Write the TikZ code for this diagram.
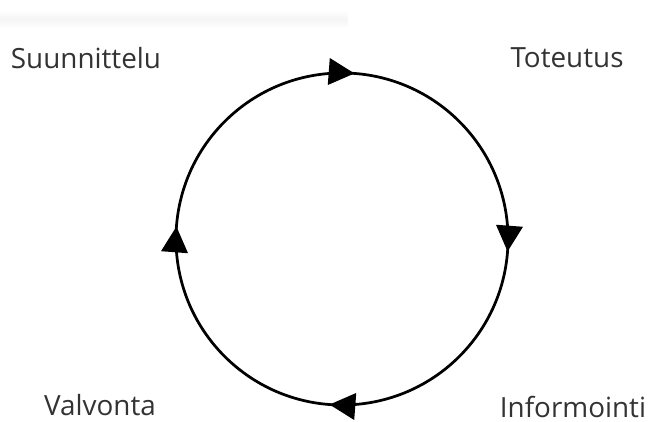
\documentclass[tikz,border=0pt]{standalone}
\usepackage{fontspec}
\setmainfont{Open Sans}
\usetikzlibrary{arrows.meta,decorations.markings}

\tikzset{
  phase/.style={font=\fontsize{13.2}{15}\selectfont, text=black!80},
  cycletip/.tip={Triangle[length=0.43cm,width=0.44cm]},
  cycle/.style={line width=1.3pt, postaction={decorate},
    decoration={markings,
      mark=at position 0.137 with {\arrow{cycletip}},
      mark=at position 0.387 with {\arrow{cycletip}},
      mark=at position 0.637 with {\arrow{cycletip}},
      mark=at position 0.887 with {\arrow{cycletip}}}}
}

\begin{document}
\begin{tikzpicture}
    \useasboundingbox (0,0) rectangle (10.8,-7.017);
    % faint band at the top
    \shade[top color=white,bottom color=white,middle color=black!4] (0,-0.17) rectangle (5.8,-0.47);
    % the cycle, drawn clockwise
    \coordinate (c) at (5.7,-3.983);
    \draw[cycle] (c) ++(135:2.767) arc[start angle=135, end angle=-225, radius=2.767];
    % phases
    \node[phase] (suunnittelu) at (1.433,-0.967) {Suunnittelu};
    \node[phase] (toteutus) at (9.45,-0.967) {Toteutus};
    \node[phase] (informointi) at (9.55,-6.783) {Informointi};
    \node[phase] (valvonta) at (1.667,-6.75) {Valvonta};
\end{tikzpicture}
\end{document}
